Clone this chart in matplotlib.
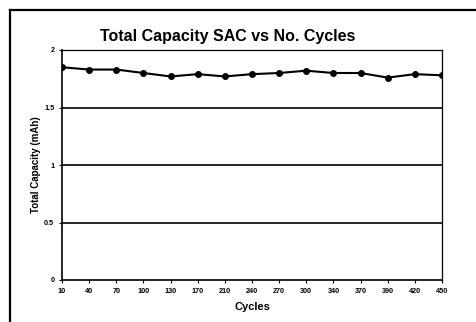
import matplotlib
matplotlib.use("Agg")
import matplotlib.pyplot as plt
from matplotlib.lines import Line2D

cycles = ["10", "40", "70", "100", "130", "170", "210", "240", "270",
          "300", "340", "370", "390", "420", "450"]
capacity = [1.85, 1.83, 1.83, 1.80, 1.77, 1.79, 1.77, 1.79, 1.80,
            1.82, 1.80, 1.80, 1.76, 1.79, 1.78]
y_ticks = [0, 0.5, 1, 1.5, 2]
y_tick_labels = ["0", "0.5", "1", "1.5", "2"]

plt.rcParams['font.family'] = ['Liberation Sans', 'DejaVu Sans']

W, H = 477, 322
fig = plt.figure(figsize=(W / 100, H / 100), dpi=100)
ax = fig.add_axes([62 / W, 1 - 280 / H, 380 / W, 230 / H])

x = list(range(len(cycles)))
ax.plot(x, capacity, color="black", lw=1.5, marker="o", ms=4,
        markerfacecolor="black", markeredgecolor="black", zorder=3)

for v in y_ticks[1:-1]:
    ax.axhline(v, color="black", lw=1.2, zorder=1)

ax.set_xlim(0, len(cycles) - 1)
ax.set_ylim(0, 2)
ax.set_xticks(x)
ax.set_xticklabels(cycles, fontsize=5.2, fontweight="bold")
ax.set_yticks(y_ticks)
ax.set_yticklabels(y_tick_labels, fontsize=5.2, fontweight="bold")
ax.tick_params(axis="both", length=2.5, width=0.8, color="black", pad=3)

for s in ax.spines.values():
    s.set_color("black")
    s.set_linewidth(0.9)
ax.spines["left"].set_linewidth(1.2)
ax.spines["bottom"].set_linewidth(1.2)

ax.set_xlabel("Cycles", fontsize=8, fontweight="bold", labelpad=5)
ax.set_ylabel("Total Capacity (mAh)", fontsize=7, fontweight="bold", labelpad=2)
fig.text(228 / W, 1 - 36 / H, "Total Capacity SAC vs No. Cycles",
         ha="center", va="center", fontsize=11.5, fontweight="bold")

# outer frame around the figure
fig.add_artist(Line2D([10 / W, 10 / W], [0, 1 - 10 / H], color="black", lw=1.6,
                      transform=fig.transFigure))
fig.add_artist(Line2D([10 / W, 1], [1 - 10 / H, 1 - 10 / H], color="black", lw=1.6,
                      transform=fig.transFigure))

fig.savefig("out.png", dpi=100)
